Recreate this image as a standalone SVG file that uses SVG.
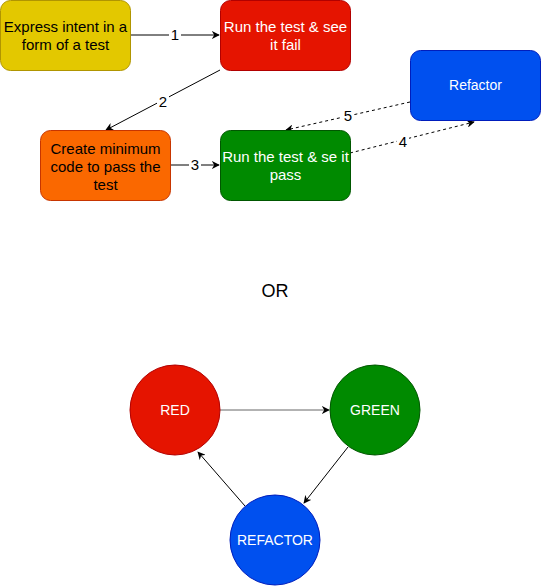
<svg xmlns="http://www.w3.org/2000/svg" width="541" height="586" viewBox="0 0 541 586">
<defs>
<marker id="ah" viewBox="0 0 10 10" refX="9" refY="5" markerWidth="8" markerHeight="8" markerUnits="userSpaceOnUse" orient="auto">
<path d="M0,0 L10,5 L0,10 L3,5 Z" fill="#000"/>
</marker>
</defs>
<style>
text{font-family:"Liberation Sans",Arial,sans-serif;font-size:14px;text-anchor:middle}
.b{font-size:15px}
.w{fill:#fff}
.k{fill:#000}
.c{stroke:#000;stroke-width:1;fill:none}
.d{stroke-dasharray:3 3}
.lbl{fill:#000;font-size:15px}
.bg{fill:#fff}
</style>
<rect width="541" height="586" fill="#fff"/>
<g id="connectors">
<line class="c" x1="130" y1="35" x2="219" y2="35" marker-end="url(#ah)"/>
<rect class="bg" x="169" y="27" width="12" height="16"/><text class="lbl" x="175" y="40">1</text>
<line class="c" x1="220" y1="70" x2="106" y2="130" marker-end="url(#ah)"/>
<rect class="bg" x="157" y="93" width="12" height="16"/><text class="lbl" x="163" y="107">2</text>
<line class="c" x1="170" y1="165" x2="219" y2="165" marker-end="url(#ah)"/>
<rect class="bg" x="189" y="157" width="12" height="16"/><text class="lbl" x="195" y="170">3</text>
<line class="c d" x1="410" y1="102" x2="286" y2="130" marker-end="url(#ah)"/>
<rect class="bg" x="342" y="108" width="12" height="16"/><text class="lbl" x="348" y="121">5</text>
<line class="c d" x1="350" y1="153" x2="474" y2="122" marker-end="url(#ah)"/>
<rect class="bg" x="397" y="134" width="12" height="16"/><text class="lbl" x="403" y="147">4</text>
<line x1="220" y1="410" x2="329" y2="410" stroke="#666" stroke-width="1" marker-end="url(#ah)"/>
<line class="c" x1="348" y1="447" x2="304" y2="503" marker-end="url(#ah)"/>
<line class="c" x1="245" y1="506" x2="198" y2="452" marker-end="url(#ah)"/>
</g>
<g id="n-express">
<rect x="0.5" y="0.5" width="130" height="70" rx="10" fill="#e3c800" stroke="#B09500"/>
<text class="k b" x="65.5" y="32">Express intent in a</text>
<text class="k b" x="65.5" y="50">form of a test</text>
</g>
<g id="n-fail">
<rect x="220.5" y="0.5" width="130" height="70" rx="10" fill="#e51400" stroke="#B20000"/>
<text class="w b" x="285.5" y="32">Run the test &amp; see</text>
<text class="w b" x="285.5" y="50">it fail</text>
</g>
<g id="n-refactor">
<rect x="410.5" y="50.5" width="130" height="70" rx="10" fill="#0050ef" stroke="#001DBC"/>
<text class="w" x="475.5" y="90">Refactor</text>
</g>
<g id="n-minimum">
<rect x="40.5" y="130.5" width="130" height="70" rx="10" fill="#fa6800" stroke="#C73500"/>
<text class="k b" x="105.5" y="154">Create minimum</text>
<text class="k b" x="105.5" y="172">code to pass the</text>
<text class="k b" x="105.5" y="190">test</text>
</g>
<g id="n-pass">
<rect x="220.5" y="130.5" width="130" height="70" rx="10" fill="#008a00" stroke="#005700"/>
<text class="w b" x="285.5" y="162">Run the test &amp; se it</text>
<text class="w b" x="285.5" y="180">pass</text>
</g>
<g id="n-or">
<text class="k" x="275" y="297" style="font-size:18px">OR</text>
</g>
<g id="n-red">
<circle cx="175" cy="410" r="45" fill="#e51400" stroke="#B20000"/>
<text class="w" x="175" y="415">RED</text>
</g>
<g id="n-green">
<circle cx="375" cy="410" r="45" fill="#008a00" stroke="#005700"/>
<text class="w" x="375" y="415">GREEN</text>
</g>
<g id="n-refactor2">
<circle cx="275" cy="540" r="45" fill="#0050ef" stroke="#001DBC"/>
<text class="w" x="275" y="545">REFACTOR</text>
</g>
</svg>
